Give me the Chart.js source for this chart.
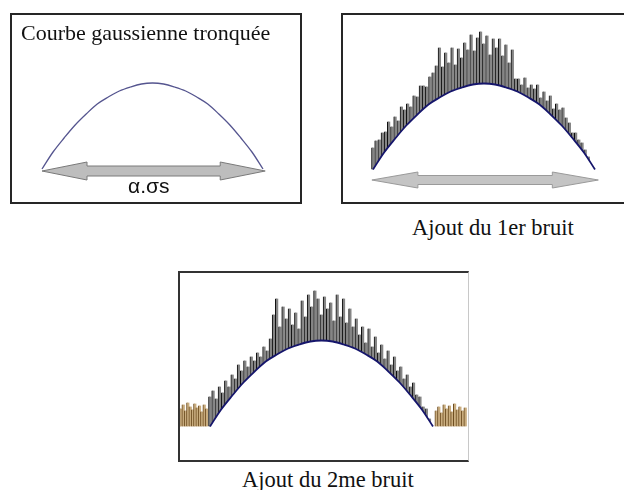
<!DOCTYPE html>
<html>
<head>
<meta charset="utf-8">
<script src="https://cdn.jsdelivr.net/npm/chart.js@4.4.0/dist/chart.umd.min.js"></script>
<style>
    html, body { margin: 0; padding: 0; background: #fff; }
    body { width: 624px; height: 490px; position: relative; overflow: hidden; }
    .cadre { position: absolute; box-sizing: border-box; border: 2px solid #262626; background: #fff; overflow: hidden; }
    .cadre canvas { position: absolute; left: 0; top: 0; display: block; }
    .txt { position: absolute; font-family: 'Liberation Serif', 'Times New Roman', serif; font-size: 22.5px;
           line-height: 22px; color: #111; white-space: nowrap; }
    .sigma { position: absolute; font-family: 'Liberation Sans', Arial, sans-serif; font-size: 21px;
             line-height: 21px; color: #111; white-space: nowrap; }
</style>
</head>
<body>

<div class="cadre" id="cadre1" style="left:10px; top:13px; width:292px; height:191px;"><canvas id="g1"></canvas></div>
<div class="cadre" id="cadre2" style="left:341px; top:13px; width:290px; height:191px;"><canvas id="g2"></canvas></div>
<div class="cadre" id="cadre3" style="left:178px; top:271px; width:291px; height:191px; border-color:#333 #c8c8c8 #333 #333; border-right-width:1px;"><canvas id="g3"></canvas></div>

<div class="txt" style="left:21px; top:22px; font-size:22px;">Courbe gaussienne tronquée</div>
<div class="sigma" style="left:128px; top:175px;">α.σs</div>
<div class="txt" style="left:412px; top:217px;">Ajout du 1er bruit</div>
<div class="txt" style="left:242px; top:469px;">Ajout du 2me bruit</div>

<script>
// ─── Données ──────────────────────────────────────────────────────
// Profil de la gaussienne tronquée : position normalisée (-1..1) et hauteur (px au-dessus de la base)
const courbeX = [-1, -0.9, -0.8, -0.7, -0.6, -0.5, -0.4, -0.3, -0.2, -0.1, 0,
                 0.1, 0.2, 0.3, 0.4, 0.5, 0.6, 0.7, 0.8, 0.9, 1];
const courbeY = [0, 17, 31, 44, 55, 65, 72, 78, 82, 85, 86,
                 85, 82, 78, 72, 65, 55, 44, 31, 17, 0];

// Sommets des pics du 1er bruit (panneau 2), de gauche à droite
const bruit1 = [22, 29, 30, 37, 38, 48, 43, 53, 49, 63, 60, 66, 63, 74, 73, 84, 84, 83, 93, 97,
                104, 122, 103, 117, 107, 122, 105, 121, 112, 127, 120, 135, 119, 132, 138, 126, 134, 115, 131, 122,
                131, 114, 125, 107, 120, 91, 91, 85, 92, 82, 85, 81, 85, 72, 78, 69, 74, 61, 66, 60,
                62, 52, 47, 37, 37, 30, 27, 20, 13, 4];

// Sommets des pics du 1er bruit (panneau 3)
const bruit2 = [30, 36, 28, 40, 34, 46, 40, 52, 48, 62, 56, 66, 60, 70, 66, 74, 70, 80, 76, 88,
                112, 128, 100, 120, 108, 118, 102, 114, 98, 126, 110, 132, 120, 136, 128, 112, 130, 118, 124, 106,
                132, 110, 128, 104, 118, 100, 108, 92, 100, 84, 98, 80, 90, 74, 82, 68, 76, 62, 70, 56,
                60, 48, 52, 40, 44, 32, 30, 20, 18, 8];

// 2e bruit (brun) hors de la gaussienne
const brunGauche = [18, 22, 16, 24, 20, 17, 23, 19, 21, 15, 22, 18];
const brunDroite = [16, 20, 14, 22, 18, 21, 15, 23, 17, 20, 16, 19];
const brunGaucheBornes = [-1.26, -1.03];
const brunDroiteBornes = [1.03, 1.29];

// ─── Outils ──────────────────────────────────────────────────────
const pointsCourbe = courbeX.map((x, i) => ({ x, y: courbeY[i] }));

function repartir(valeurs, de, a) {
    const n = valeurs.length;
    return valeurs.map((v, i) => ({ x: de + (a - de) * i / (n - 1), y: v }));
}

// Flèche double dessinée en coordonnées de données
const pluginFleche = {
    id: 'fleche',
    afterDatasetsDraw(chart, args, o) {
        const { ctx, scales: { x, y } } = chart;
        const xa = x.getPixelForValue(o.de), xb = x.getPixelForValue(o.a), yc = y.getPixelForValue(o.y);
        const e = o.tige / 2, t = o.tete / 2, L = o.longueur;
        ctx.save();
        ctx.beginPath();
        ctx.moveTo(xa, yc);
        ctx.lineTo(xa + L, yc - t);
        ctx.lineTo(xa + L, yc - e);
        ctx.lineTo(xb - L, yc - e);
        ctx.lineTo(xb - L, yc - t);
        ctx.lineTo(xb, yc);
        ctx.lineTo(xb - L, yc + t);
        ctx.lineTo(xb - L, yc + e);
        ctx.lineTo(xa + L, yc + e);
        ctx.lineTo(xa + L, yc + t);
        ctx.closePath();
        ctx.fillStyle = o.fond;
        ctx.fill();
        ctx.strokeStyle = o.trait;
        ctx.lineWidth = 1;
        ctx.stroke();
        ctx.restore();
    }
};

function datasetCourbe(couleur, epaisseur) {
    return {
        type: 'line', data: pointsCourbe, order: 0,
        borderColor: couleur, borderWidth: epaisseur, tension: 0.35,
        pointRadius: 0, fill: 'start', backgroundColor: '#fff'
    };
}

function datasetPics(points, fond, bord) {
    return {
        type: 'bar', data: points, order: 1,
        backgroundColor: fond, borderColor: bord,
        borderWidth: { left: 1, right: 0, top: 0, bottom: 0 }, borderSkipped: false,
        barThickness: 3, grouped: false
    };
}

// cadre : id du div ; ancre : début, fin et base de la gaussienne (px de page)
function panneau(idCadre, idCanvas, ancre, datasets, fleche) {
    const cadre = document.getElementById(idCadre);
    const r = cadre.getBoundingClientRect();
    const st = getComputedStyle(cadre);
    const bl = parseFloat(st.borderLeftWidth), br = parseFloat(st.borderRightWidth);
    const bt = parseFloat(st.borderTopWidth), bb = parseFloat(st.borderBottomWidth);
    const cl = r.left + bl, ct = r.top + bt;
    const cw = r.width - bl - br, ch = r.height - bt - bb;
    const canvas = document.getElementById(idCanvas);
    canvas.width = cw; canvas.height = ch;

    const centre = (ancre.x0 + ancre.x1) / 2, demi = (ancre.x1 - ancre.x0) / 2;

    return new Chart(canvas, {
        type: 'bar',
        data: { datasets },
        plugins: fleche ? [pluginFleche] : [],
        options: {
            responsive: false,
            animation: false,
            events: [],
            layout: { padding: 0 },
            scales: {
                x: { type: 'linear', display: false, offset: false,
                     min: (cl - centre) / demi, max: (cl + cw - centre) / demi },
                y: { type: 'linear', display: false,
                     min: ancre.base - (ct + ch), max: ancre.base - ct }
            },
            plugins: {
                legend: { display: false },
                tooltip: { enabled: false },
                fleche: fleche || {}
            }
        }
    });
}

// ─── Panneau 1 : courbe gaussienne tronquée ──────────────────────
panneau('cadre1', 'g1', { x0: 42, x1: 263, base: 169 },
    [datasetCourbe('#55558f', 1.3)],
    { de: -1, a: 1.02, y: -2, tige: 10, tete: 18, longueur: 45, fond: '#bdbdbd', trait: '#7a7a7a' });

// ─── Panneau 2 : ajout du 1er bruit ──────────────────────────────
panneau('cadre2', 'g2', { x0: 373, x1: 595, base: 169.5 },
    [datasetCourbe('#15156b', 1.8), datasetPics(repartir(bruit1, -1, 0.97), '#858585', '#0d0d0d')],
    { de: -1.01, a: 1.03, y: -10.5, tige: 9, tete: 16, longueur: 46, fond: '#c4c4c4', trait: '#9a9a9a' });

// ─── Panneau 3 : ajout du 2me bruit ──────────────────────────────
panneau('cadre3', 'g3', { x0: 210, x1: 433, base: 426.5 },
    [datasetCourbe('#15156b', 1.8),
     datasetPics(repartir(bruit2, -1, 0.97), '#858585', '#0d0d0d'),
     datasetPics(repartir(brunGauche, brunGaucheBornes[0], brunGaucheBornes[1]), '#c9ad7f', '#6b4a1e'),
     datasetPics(repartir(brunDroite, brunDroiteBornes[0], brunDroiteBornes[1]), '#c9ad7f', '#6b4a1e')],
    null);
</script>
</body>
</html>
